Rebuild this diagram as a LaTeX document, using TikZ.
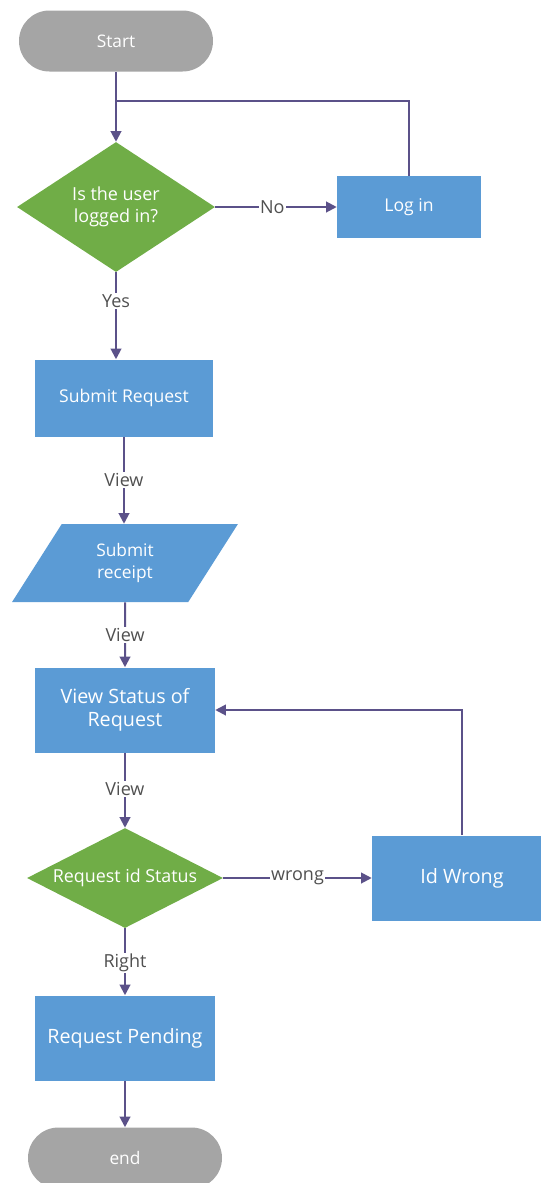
\documentclass[tikz,border=0pt]{standalone}
\usepackage{fontspec}
\setmainfont{Open Sans}
\usetikzlibrary{shapes.geometric,arrows.meta}
\definecolor{flowline}{HTML}{5B5189}
\definecolor{termgray}{HTML}{A5A5A5}
\definecolor{decgreen}{HTML}{70AD47}
\definecolor{procblue}{HTML}{5B9BD5}
\definecolor{labelgray}{HTML}{505050}
\begin{document}
\begin{tikzpicture}[x=0.75pt,y=-0.75pt]
% Estilos
\tikzset{terminal/.style={rectangle,rounded corners=22.8pt,fill=termgray,text=white,minimum width=145.5pt,minimum height=45.75pt,inner sep=0pt,font=\fontsize{13}{15}\selectfont},
  decision/.style={diamond,aspect=1.6,fill=decgreen,text=white,inner sep=0pt,align=center,font=\fontsize{13.5}{16.5}\selectfont},
  process/.style={rectangle,fill=procblue,text=white,align=center,inner sep=0pt,minimum width=135pt,minimum height=63.75pt,font=\fontsize{14.8}{17}\selectfont},
  inout/.style={trapezium,trapezium left angle=60,trapezium right angle=120,trapezium stretches=true,fill=procblue,text=white,align=center,inner sep=0pt,minimum width=169.5pt,minimum height=58.5pt,font=\fontsize{13}{16.3}\selectfont},
  flow/.style={draw=flowline,line width=1.5pt,-{Triangle[length=8pt,width=8pt]}},
  edge label/.style={fill=white,text=labelgray,inner sep=1pt,font=\fontsize{13.5}{15}\selectfont}}

\useasboundingbox (0,0) rectangle (540,1183);

% Nodos
\node[terminal] (start) at (116,41) {Start};
\node[decision,minimum width=148.5pt,minimum height=97.5pt] (logged) at (116,207) {Is the user\\logged in?};
\node[process,minimum width=108pt,minimum height=46.5pt,font=\fontsize{13.2}{15}\selectfont] (login) at (409,207) {Log in};
\node[process,minimum width=133.5pt,minimum height=57.75pt,font=\fontsize{13.2}{15}\selectfont] (submit) at (124,398) {Submit Request};
\node[inout] (receipt) at (125,563) {Submit\\receipt};
\node[process] (status) at (125,710) {View Status of\\Request};
\node[decision,aspect=2.2,minimum width=147pt,minimum height=75pt,font=\fontsize{13.4}{15}\selectfont] (reqid) at (125,878) {Request id Status};
\node[process] (wrongid) at (462,878) {Id Wrong};
\node[process] (pending) at (125,1038) {Request Pending};
\node[terminal] (finish) at (125,1158) {end};

\coordinate (merge) at (116,101);

% Conectores
\draw[flow] (start) -- (logged);
\draw[draw=flowline,line width=1.5pt] (login.north) |- (merge);
\draw[flow] (logged.east) -- node[edge label,pos=0.47] {No} (login.west);
\draw[flow] (logged.south) -- node[edge label,pos=0.33] {Yes} (logged.south |- submit.north);
\draw[flow] (submit.south) -- node[edge label,pos=0.5] {View} (submit.south |- receipt.north);
\draw[flow] (receipt.south) -- node[edge label,pos=0.5] {View} (status.north);
\draw[flow] (status.south) -- node[edge label,pos=0.48] {View} (reqid.north);
\draw[flow] (reqid.east) -- node[edge label,pos=0.5] {wrong} (wrongid.west);
\draw[flow] (wrongid.north) |- (status.east);
\draw[flow] (reqid.south) -- node[edge label,pos=0.52] {Right} (pending.north);
\draw[flow] (pending.south) -- (finish.north);

\end{tikzpicture}
\end{document}
